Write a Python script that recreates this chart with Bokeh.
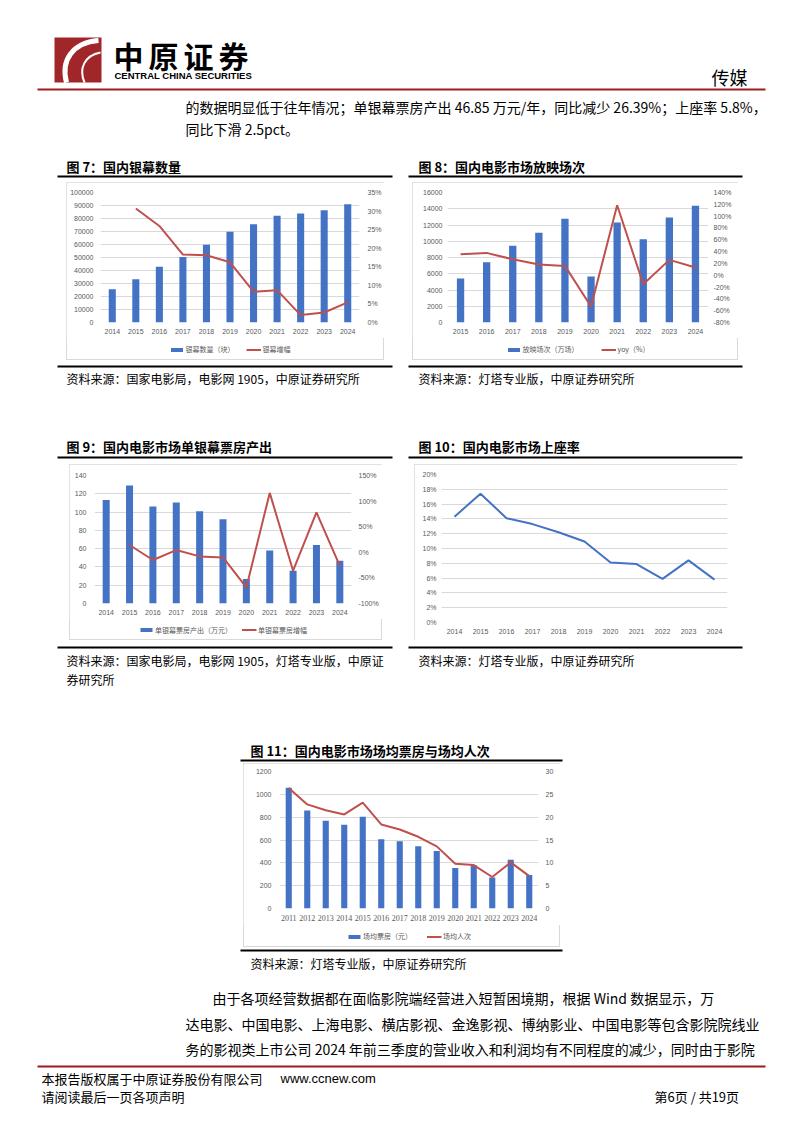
from bokeh.plotting import figure
from bokeh.layouts import column, row
from bokeh.models import (Range1d, FactorRange, LinearAxis, FixedTicker,
                          NumeralTickFormatter, Legend, LegendItem, Spacer)
from bokeh.core.properties import value
from bokeh.embed import file_html
from bokeh.resources import INLINE

# ---------------- data ----------------
years_a = ["2014", "2015", "2016", "2017", "2018", "2019", "2020", "2021", "2022", "2023", "2024"]
screens = [25600, 33300, 42800, 50300, 59800, 69800, 75600, 82200, 83900, 86300, 90900]
screen_growth_years = years_a[1:]
screen_growth = [0.307, 0.260, 0.183, 0.181, 0.162, 0.083, 0.087, 0.020, 0.027, 0.054]

years_b = ["2015", "2016", "2017", "2018", "2019", "2020", "2021", "2022", "2023", "2024"]
showings = [5415, 7425, 9436, 11036, 12759, 5662, 12308, 10256, 12923, 14359]
showings_yoy = [0.355, 0.378, 0.27, 0.18, 0.158, -0.53, 1.185, -0.152, 0.26, 0.13]

per_screen = [113.3, 129.0, 106.0, 110.4, 100.9, 92.1, 26.7, 58.1, 35.8, 64.0, 46.85]
per_screen_growth_years = years_a[1:]
per_screen_growth = [0.142, -0.151, 0.044, -0.08, -0.10, -0.687, 1.16, -0.36, 0.78, -0.2639]

occupancy = [0.143, 0.174, 0.141, 0.133, 0.122, 0.1095, 0.081, 0.079, 0.059, 0.084, 0.058]

years_c = ["2011", "2012", "2013", "2014", "2015", "2016", "2017", "2018", "2019",
           "2020", "2021", "2022", "2023", "2024"]
avg_box = [1057, 859, 769, 734, 804, 606, 588, 545, 504, 355, 379, 271, 428, 294]
avg_people = [26.4, 22.8, 21.5, 20.6, 23.2, 18.4, 17.3, 15.7, 13.6, 9.8, 9.5, 6.9, 10.1, 7.1]

ticks7_l = list(range(0, 100001, 10000))
ticks7_r = [i / 100 for i in range(0, 36, 5)]
ticks8_l = list(range(0, 16001, 2000))
ticks8_r = [i / 10 for i in range(-8, 15, 2)]
ticks9_l = list(range(0, 141, 20))
ticks9_r = [-1.0, -0.5, 0.0, 0.5, 1.0, 1.5]
ticks10 = [i / 100 for i in range(0, 21, 2)]
ticks11_l = list(range(0, 1201, 200))
ticks11_r = list(range(0, 31, 5))

# ---------------- styles ----------------
CJK = "Noto Sans CJK SC"
LAT = "Liberation Sans"
BAR = "#4472C4"
RED = "#C0504D"
GRID = "#D9D9D9"
TICK = "#595959"
DARKRED = "#9B1B1E"
PAGE_W = 802
BOX = {"outline": "1px solid #D9D9D9", "outline-offset": "-1px"}


def band(y0, y1):
    p = figure(width=PAGE_W, height=y1 - y0, x_range=Range1d(0, PAGE_W), y_range=Range1d(y1, y0),
               output_backend="svg", toolbar_location=None, min_border=0,
               x_axis_type=None, y_axis_type=None, outline_line_color=None)
    p.xgrid.visible = False
    p.ygrid.visible = False
    return p


def txt(p, x, y, s, size, font=CJK, bold=False, color="black", align="left"):
    p.text(x=[x], y=[y], text=[s], text_font=value(font), text_font_size=f"{size}px",
           text_font_style="bold" if bold else "normal", text_color=color,
           text_baseline="middle", text_align=align)


def hline(p, x0, x1, y, w=2, color="black"):
    p.segment(x0=[x0], y0=[y], x1=[x1], y1=[y], line_width=w, line_color=color)


def chart(w, h, L, R, T, B, factors, yrange, yticks, yfmt="0", lstand=6, xsize="7px", xfont=LAT):
    p = figure(frame_width=w - L - R, frame_height=h - T - B,
               x_range=FactorRange(factors=factors), y_range=Range1d(*yrange),
               output_backend="svg", toolbar_location=None,
               min_border_left=L, min_border_right=R, min_border_top=T, min_border_bottom=B,
               outline_line_color=None)
    p.xgrid.visible = False
    p.ygrid.grid_line_color = GRID
    p.yaxis.ticker = FixedTicker(ticks=yticks)
    p.yaxis.formatter = NumeralTickFormatter(format=yfmt)
    for ax in (p.xaxis, p.yaxis):
        ax.axis_line_color = None
        ax.major_tick_line_color = None
        ax.minor_tick_line_color = None
        ax.major_tick_out = 0
        ax.major_tick_in = 0
        ax.major_label_text_color = TICK
        ax.major_label_text_font = LAT
        ax.major_label_text_font_size = "7px"
    p.xaxis.major_label_text_font_size = xsize
    p.xaxis.major_label_text_font = xfont
    p.xaxis.major_label_standoff = 6
    p.yaxis.major_label_standoff = lstand
    return p


def right_axis(p, rng, ticks, fmt="0", stand=6):
    p.extra_y_ranges = {"r": Range1d(*rng)}
    ax = LinearAxis(y_range_name="r", ticker=FixedTicker(ticks=ticks),
                    formatter=NumeralTickFormatter(format=fmt))
    ax.axis_line_color = None
    ax.major_tick_line_color = None
    ax.minor_tick_line_color = None
    ax.major_tick_out = 0
    ax.major_tick_in = 0
    ax.major_label_text_color = TICK
    ax.major_label_text_font = LAT
    ax.major_label_text_font_size = "7px"
    ax.major_label_standoff = stand
    p.add_layout(ax, "right")


def legend_strip(w, L, R, h, labels, spacing):
    """A small strip under a chart holding its legend (bar swatch + line swatch)."""
    s = figure(frame_width=w - L - R, frame_height=h, x_range=Range1d(0, 1), y_range=Range1d(0, 1),
               output_backend="svg", toolbar_location=None,
               min_border_left=L, min_border_right=R, min_border_top=0, min_border_bottom=0,
               x_axis_type=None, y_axis_type=None, outline_line_color=None,
               background_fill_color=None, border_fill_color=None)
    s.xgrid.visible = False
    s.ygrid.visible = False
    # zero-size swatch renderers: only their legend glyphs are seen
    rb = s.vbar(x=[0.5], top=[0.5], bottom=[0.5], width=0, fill_color=BAR, line_color=None)
    rl = s.line(x=[0.5], y=[0.5], line_color=RED, line_width=2)
    lg = Legend(items=[LegendItem(label=labels[0], renderers=[rb]),
                       LegendItem(label=labels[1], renderers=[rl])],
                orientation="horizontal", location="center",
                label_text_font=CJK, label_text_font_size="7px", label_text_color=TICK,
                glyph_width=15, glyph_height=5, label_height=8, label_standoff=2,
                spacing=spacing, padding=0, margin=0,
                border_line_color=None, background_fill_alpha=0)
    s.add_layout(lg)
    return s


def boxed(*children):
    c = column(*children, spacing=0)
    c.styles = BOX
    return c


# ---------------- band A: header ----------------
pA = band(0, 182)
pA.quad(left=[54], right=[101], top=[37], bottom=[82], fill_color="#A1262A", line_color=None)
pA.bezier(x0=[98], y0=[40], x1=[66], y1=[82], cx0=[72], cy0=[42], cx1=[60], cy1=[60],
          line_color="white", line_width=5)
pA.bezier(x0=[100], y0=[52], x1=[84], y1=[82], cx0=[84], cy0=[55], cx1=[78], cy1=[68],
          line_color="white", line_width=2)
for i, ch in enumerate("中原证券"):
    txt(pA, 113 + i * 35, 54, ch, 30, bold=True)
txt(pA, 114, 75, "CENTRAL CHINA SECURITIES", 9.5, font=LAT, bold=True)
txt(pA, 711, 76, "传媒", 18)
hline(pA, 37, 765, 89, 2, DARKRED)
txt(pA, 185, 106, "的数据明显低于往年情况；单银幕票房产出 46.85 万元/年，同比减少 26.39%；上座率 5.8%，", 14)
txt(pA, 185, 128, "同比下滑 2.5pct。", 14)
txt(pA, 66, 166, "图 7：国内银幕数量", 13, bold=True)
txt(pA, 418, 166, "图 8：国内电影市场放映场次", 13, bold=True)
hline(pA, 57, 392, 176)
hline(pA, 408, 742, 176)

# ---------------- chart 7 ----------------
f7 = chart(318, 156, 34, 25, 10, 16, years_a, (0, 100000), ticks7_l, lstand=7)
f7.vbar(x=years_a, top=screens, width=0.3, fill_color=BAR, line_color=None)
right_axis(f7, (0, 0.35), ticks7_r, "0%", 8)
f7.line(x=screen_growth_years, y=screen_growth, y_range_name="r", line_color=RED, line_width=2)
s7 = legend_strip(318, 34, 25, 22, ["银幕数量（块）", "银幕增幅"], 11)

# ---------------- chart 8 ----------------
f8 = chart(326, 156, 35, 30, 10, 16, years_b, (0, 16000), ticks8_l, lstand=5)
f8.vbar(x=years_b, top=showings, width=0.28, fill_color=BAR, line_color=None)
right_axis(f8, (-0.8, 1.4), ticks8_r, "0%", 5)
f8.line(x=years_b, y=showings_yoy, y_range_name="r", line_color=RED, line_width=2)
s8 = legend_strip(326, 35, 30, 22, ["放映场次（万场）", "yoy（%）"], 22)

# ---------------- band C ----------------
pC = band(360, 464)
hline(pC, 57, 392, 366)
hline(pC, 408, 742, 366)
txt(pC, 66, 378, "资料来源：国家电影局，电影网 1905，中原证券研究所", 12)
txt(pC, 418, 378, "资料来源：灯塔专业版，中原证券研究所", 12)
txt(pC, 66, 446, "图 9：国内电影市场单银幕票房产出", 13, bold=True)
txt(pC, 418, 446, "图 10：国内电影市场上座率", 13, bold=True)
hline(pC, 57, 392, 457)
hline(pC, 408, 742, 457)

# ---------------- chart 9 ----------------
f9 = chart(313, 155, 25, 31, 11, 16, years_a, (0, 140), ticks9_l, lstand=8)
f9.vbar(x=years_a, top=per_screen, width=0.3, fill_color=BAR, line_color=None)
right_axis(f9, (-1.0, 1.5), ticks9_r, "0%", 7)
f9.line(x=per_screen_growth_years, y=per_screen_growth, y_range_name="r", line_color=RED, line_width=2)
s9 = legend_strip(313, 25, 31, 21, ["单银幕票房产出（万元）", "单银幕票房增幅"], 9)

# ---------------- chart 10 ----------------
f10 = chart(323, 176, 27, 10, 10, 18, years_a, (0, 0.2), ticks10, yfmt="0%", lstand=5)
f10.line(x=years_a, y=occupancy, line_color=BAR, line_width=2)

# ---------------- band E ----------------
pE = band(640, 763)
hline(pE, 57, 392, 647)
hline(pE, 408, 742, 647)
txt(pE, 66, 660, "资料来源：国家电影局，电影网 1905，灯塔专业版，中原证", 12)
txt(pE, 66, 679, "券研究所", 12)
txt(pE, 418, 660, "资料来源：灯塔专业版，中原证券研究所", 12)
txt(pE, 250, 750, "图 11：国内电影市场场均票房与场均人次", 13, bold=True)
hline(pE, 240, 562, 760)

# ---------------- chart 11 ----------------
f11 = chart(317, 162, 36, 22, 8, 17, years_c, (0, 1200), ticks11_l, lstand=8,
            xsize="8px", xfont="Liberation Serif")
f11.vbar(x=years_c, top=avg_box, width=0.33, fill_color=BAR, line_color=None)
right_axis(f11, (0, 30), ticks11_r, "0", 7)
f11.line(x=years_c, y=avg_people, y_range_name="r", line_color=RED, line_width=2)
s11 = legend_strip(317, 36, 22, 22, ["场均票房（元）", "场均人次"], 14)

# ---------------- band G ----------------
pG = band(947, 1133)
hline(pG, 240, 562, 950)
txt(pG, 250, 963, "资料来源：灯塔专业版，中原证券研究所", 12)
txt(pG, 212, 997, "由于各项经营数据都在面临影院端经营进入短暂困境期，根据 Wind 数据显示，万", 14)
txt(pG, 185, 1023, "达电影、中国电影、上海电影、横店影视、金逸影视、博纳影业、中国电影等包含影院院线业", 14)
txt(pG, 185, 1048, "务的影视类上市公司 2024 年前三季度的营业收入和利润均有不同程度的减少，同时由于影院", 14)
hline(pG, 37, 765, 1066, 2, DARKRED)
txt(pG, 41, 1078, "本报告版权属于中原证券股份有限公司", 13)
txt(pG, 280, 1078, "www.ccnew.com", 13, font=LAT)
txt(pG, 41, 1096, "请阅读最后一页各项声明", 13)
txt(pG, 654, 1096, "第6页 / 共19页", 13)

layout = column(
    pA,
    row(Spacer(width=66, height=178), boxed(f7, s7), Spacer(width=28, height=178),
        boxed(f8, s8), spacing=0),
    pC,
    row(Spacer(width=69, height=176), boxed(f9, s9), Spacer(width=32, height=176),
        boxed(f10), spacing=0),
    pE,
    row(Spacer(width=243, height=184), boxed(f11, s11), spacing=0),
    pG,
    spacing=0,
)

open("out.html", "w").write(file_html(layout, INLINE))
